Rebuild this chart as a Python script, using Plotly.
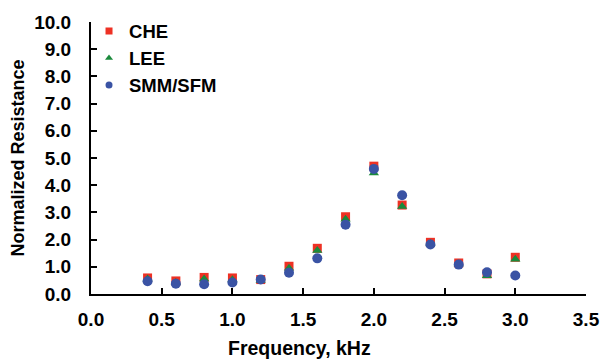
import plotly.graph_objects as go

freq = [0.4, 0.6, 0.8, 1.0, 1.2, 1.4, 1.6, 1.8, 2.0, 2.2, 2.4, 2.6, 2.8, 3.0]
che = [0.59, 0.48, 0.61, 0.59, 0.53, 1.02, 1.68, 2.84, 4.70, 3.27, 1.90, 1.14, 0.74, 1.35]
lee = [0.55, 0.42, 0.55, 0.52, 0.50, 0.95, 1.60, 2.75, 4.45, 3.22, 1.86, 1.10, 0.67, 1.28]
smm = [0.47, 0.38, 0.36, 0.42, 0.53, 0.78, 1.31, 2.55, 4.60, 3.63, 1.82, 1.08, 0.80, 0.68]
series_names = ["CHE", "LEE", "SMM/SFM"]
x_ticks = [0.0, 0.5, 1.0, 1.5, 2.0, 2.5, 3.0, 3.5]
y_ticks = [0, 1, 2, 3, 4, 5, 6, 7, 8, 9, 10]
x_title = "Frequency, kHz"
y_title = "Normalized Resistance"

FONT = "Liberation Sans, Arial, sans-serif"
colors = ["#EE3124", "#1B8A3C", "#3A53A4"]
symbols = ["square", "triangle-up", "circle"]
sizes = [9, 9, 10]
legend_sizes = [7, 7, 7]

fig = go.Figure()
for name, vals, c, s, sz in zip(series_names, [che, lee, smm], colors, symbols, sizes):
    fig.add_trace(go.Scatter(x=freq, y=vals, mode="markers", name=name, showlegend=False,
                             marker=dict(symbol=s, size=sz, color=c)))
for name, c, s, sz in zip(series_names, colors, symbols, legend_sizes):
    fig.add_trace(go.Scatter(x=[None], y=[None], mode="markers", name=f"<b>{name}</b>",
                             marker=dict(symbol=s, size=sz, color=c)))

fig.update_layout(
    width=603, height=363,
    margin=dict(l=91, r=17, t=16, b=69),
    paper_bgcolor="white", plot_bgcolor="white",
    font=dict(family=FONT, size=15, color="black"),
    showlegend=True,
    legend=dict(x=-0.004, y=1.035, xanchor="left", yanchor="top",
                font=dict(size=18.5, family=FONT, color="black"),
                bgcolor="rgba(0,0,0,0)", itemsizing="trace", tracegroupgap=0),
    xaxis=dict(range=[0, 3.5], tickvals=x_ticks, ticktext=[f"<b>{v:.1f}</b>" for v in x_ticks],
               automargin=False,
               showline=True, linecolor="black", linewidth=2, mirror=False,
               ticks="inside", ticklen=6, tickwidth=2, tickcolor="black",
               showgrid=False, zeroline=False, ticklabeloverflow="allow",
               ticklabelstandoff=7,
               tickfont=dict(size=19, family=FONT)),
    yaxis=dict(range=[0, 10], tickvals=y_ticks, ticktext=[f"<b>{v:.1f}</b>" for v in y_ticks],
               automargin=False,
               showline=True, linecolor="black", linewidth=2,
               ticks="inside", ticklen=6, tickwidth=2, tickcolor="black",
               showgrid=False, zeroline=False, ticklabeloverflow="allow",
               ticklabelstandoff=14,
               tickfont=dict(size=19, family=FONT),
               title=dict(text=f"<b>{y_title}</b>", font=dict(size=18, family=FONT), standoff=5)),
    annotations=[dict(text=f"<b>{x_title}</b>", xref="paper", yref="paper",
                      x=0.422, y=-0.197, xanchor="center", yanchor="middle",
                      showarrow=False, font=dict(size=19.5, family=FONT, color="black"))],
)

fig.write_html("out.html")
